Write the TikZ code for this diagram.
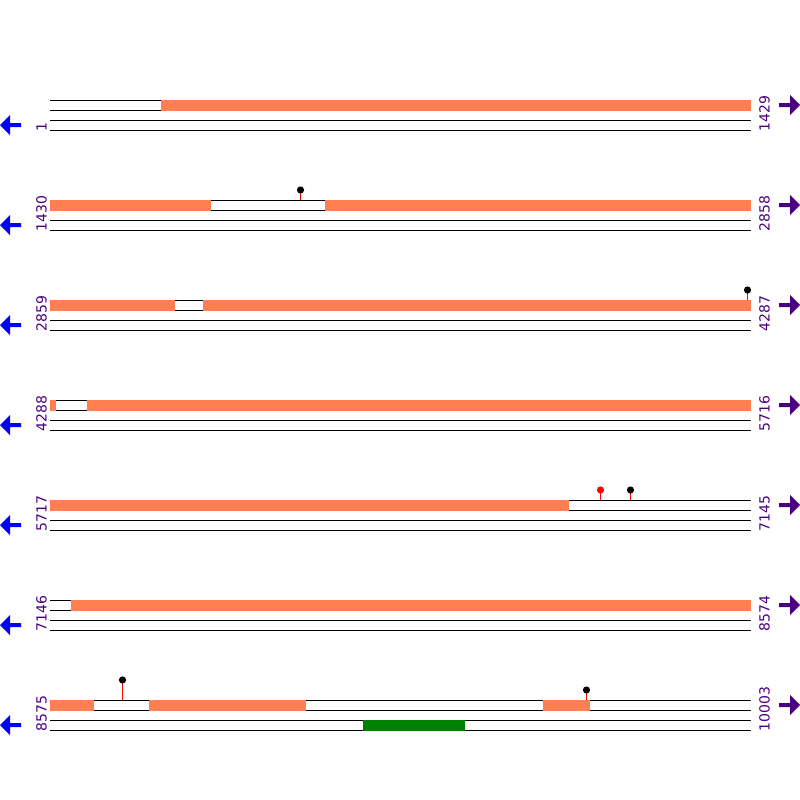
\documentclass[tikz,border=0pt]{standalone}
\usepackage{fontspec}
\setmainfont{DejaVu Sans}
\definecolor{coralc}{HTML}{FF7F50}
\definecolor{indig}{HTML}{4B0082}
\definecolor{grn}{HTML}{008000}
\begin{document}
\begin{tikzpicture}[x=1pt,y=-1pt,
  track/.style={line width=1pt,black},
  featbar/.style={fill=coralc},
  lbl/.style={rotate=90,anchor=base west,inner sep=0pt,text=indig,font=\fontsize{14}{14}\selectfont},
  lollistick/.style={red,line width=1pt},
  larrow/.style={fill=blue},
  rarrow/.style={fill=indig}]
\useasboundingbox (0,0) rectangle (800,800);
% tracks, arrows, labels
\foreach \r/\la/\ra in {0/1/1429,1/1430/2858,2/2859/4287,3/4288/5716,4/5717/7145,5/7146/8574,6/8575/10003}{
  \pgfmathsetmacro{\y}{100+100*\r}
  \foreach \d in {0,10,20,30}{
    \draw[track] (50,\y+\d+0.5) -- (751,\y+\d+0.5);
  }
  \fill[larrow] (0,\y+25) -- (10,\y+15) -- (10,\y+23) -- (21,\y+23) -- (21,\y+27) -- (10,\y+27) -- (10,\y+35) -- cycle;
  \fill[rarrow] (800,\y+5) -- (790,\y-5) -- (790,\y+3) -- (779,\y+3) -- (779,\y+7) -- (790,\y+7) -- (790,\y+15) -- cycle;
  \node[lbl] (left\r) at (46.5,\y+31.5) {\la};
  \node[lbl] (right\r) at (769.5,\y+31.5) {\ra};
}
% orange features (top lane)
\foreach \y/\a/\b in {100/161/751,
  200/50/211, 200/325/751,
  300/50/175, 300/203/751,
  400/50/56, 400/87/751,
  500/50/569,
  600/71/751,
  700/50/94, 700/149/306, 700/543/590}{
  \fill[featbar] (\a,\y) rectangle (\b,\y+11);
}
% green feature (lane 3 of last row)
\fill[grn] (363,720) rectangle (465,731);
% lollipops
\foreach \x/\y/\h/\c in {300/200/10/black, 747/300/10/black, 600/500/10/red, 630/500/10/black, 122/700/20/black, 586/700/10/black}{
  \draw[lollistick] (\x+0.5,\y) -- (\x+0.5,\y-\h);
  \fill[\c] (\x+0.5,\y-\h) circle (3.6);
}
\end{tikzpicture}
\end{document}
